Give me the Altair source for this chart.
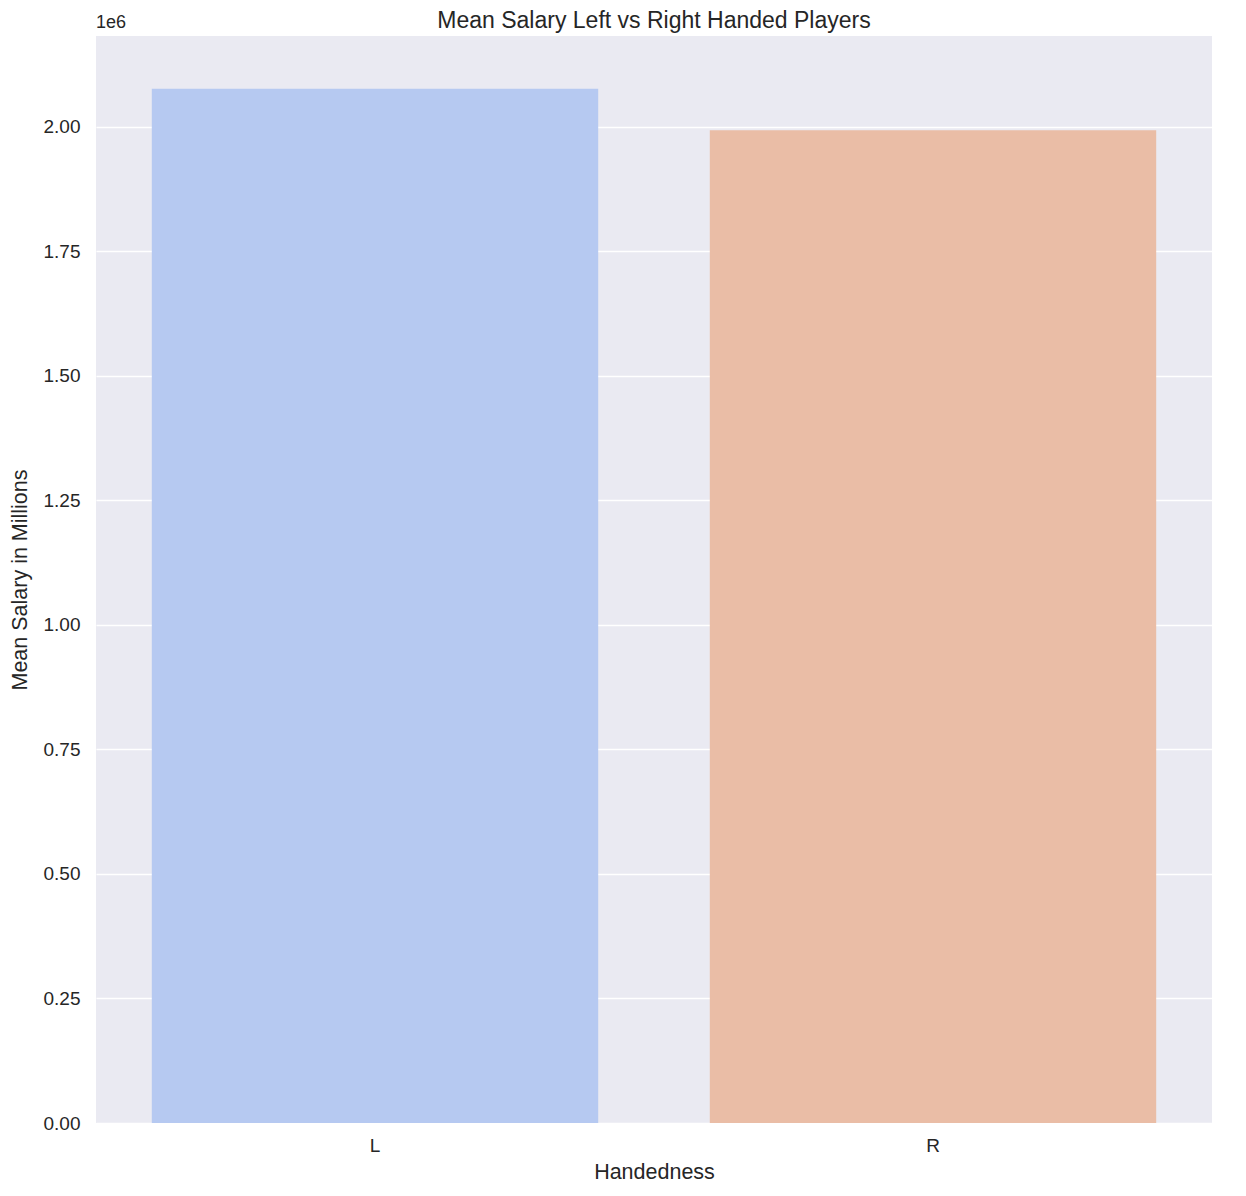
import altair as alt
import pandas as pd

categories = ["L", "R"]
mean_salary = [2076000, 1993000]
colors = ["#B6C9F1", "#EABDA6"]
y_ticks = [0, 250000, 500000, 750000, 1000000, 1250000, 1500000, 1750000, 2000000]

df = pd.DataFrame({"Handedness": categories, "salary": mean_salary})
FONT = "Liberation Sans"
TXT = "#262626"

bars = alt.Chart(df).mark_bar().encode(
    x=alt.X("Handedness:N", sort=categories,
            scale=alt.Scale(paddingInner=0.2, paddingOuter=0.1),
            axis=alt.Axis(title="Handedness", labelAngle=0, ticks=False, domain=False,
                          grid=False, labelFontSize=19, titleFontSize=21.5,
                          labelPadding=13, titlePadding=6, labelColor=TXT,
                          titleColor=TXT, labelFont=FONT, titleFont=FONT,
                          titleFontWeight="normal")),
    y=alt.Y("salary:Q", scale=alt.Scale(domain=[0, 2182000], nice=False, zero=True),
            axis=alt.Axis(title="Mean Salary in Millions", values=y_ticks,
                          labelExpr="format(datum.value / 1000000, '.2f')",
                          ticks=False, domain=False, grid=True, gridColor="white",
                          gridWidth=1.6, labelFontSize=19, titleFontSize=21.5,
                          labelPadding=16, titlePadding=12, labelColor=TXT,
                          titleColor=TXT, labelFont=FONT, titleFont=FONT,
                          titleFontWeight="normal")),
    color=alt.Color("Handedness:N", scale=alt.Scale(domain=categories, range=colors),
                    legend=None),
)

offset = alt.Chart(pd.DataFrame({"t": ["1e6"]})).mark_text(
    align="left", baseline="alphabetic", fontSize=18, font=FONT, color=TXT
).encode(x=alt.value(0), y=alt.value(-8), text="t:N")

chart = alt.layer(bars, offset).properties(
    width=1116, height=1087,
    title=alt.TitleParams("Mean Salary Left vs Right Handed Players", fontSize=23,
                          font=FONT, fontWeight="normal", color=TXT,
                          anchor="middle", frame="group", offset=0, dy=19),
    autosize=alt.AutoSizeParams(type="none"),
    padding={"left": 88, "top": 28, "right": 20, "bottom": 60},
).configure_view(fill="#EAEAF2", stroke=None)

chart.save("out.html", embed_options={"renderer": "svg", "actions": False})
